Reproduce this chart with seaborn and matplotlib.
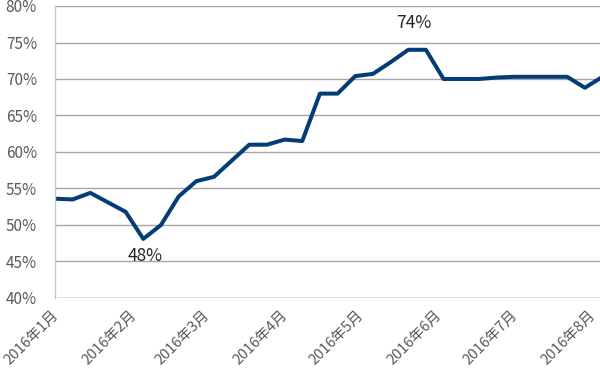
import matplotlib
matplotlib.use("Agg")
import matplotlib.pyplot as plt
import matplotlib.ticker as mticker
import matplotlib.transforms as mtransforms
import seaborn as sns
import pandas as pd

# weekly readings, starting 2016-01-01
start_date = "2016-01-01"
rate = [53.6, 53.5, 54.4, 53.1, 51.8, 48.1, 50.0, 53.9, 56.0, 56.6,
        58.8, 61.0, 61.0, 61.7, 61.5, 68.0, 68.0, 70.4, 70.7, 72.3,
        74.0, 74.0, 70.0, 70.0, 70.0, 70.2, 70.3, 70.3, 70.3, 70.3,
        68.8, 70.3]
month_ticks = pd.date_range("2016-01-01", "2016-08-01", freq="MS")
month_labels = [f"{d.year}年{d.month}月" for d in month_ticks]
y_ticks = [40, 45, 50, 55, 60, 65, 70, 75, 80]

df = pd.DataFrame({
    "date": pd.date_range(start_date, periods=len(rate), freq="7D"),
    "rate": rate,
})

sns.set_theme(style="white")
plt.rcParams["font.family"] = ["Noto Sans CJK JP", "DejaVu Sans"]

fig = plt.figure(figsize=(6, 3.74), dpi=100)
ax = fig.add_axes([55 / 600, 1 - 298 / 374, 1 - 55 / 600, 292 / 374])

sns.lineplot(data=df, x="date", y="rate", color="#043c78", linewidth=2.9,
             ax=ax)

ax.set_ylim(40, 80)
ax.set_xlim(pd.Timestamp("2016-01-01"), pd.Timestamp("2016-08-04"))
ax.set_yticks(y_ticks)
ax.yaxis.set_major_formatter(mticker.FuncFormatter(lambda v, p: f"{v:.0f}%"))
ax.set_xticks(month_ticks)
ax.set_xticklabels(month_labels, rotation=45, ha="right",
                   rotation_mode="anchor")
ax.tick_params(axis="x", colors="#595959", labelsize=10.5, pad=7, length=0)
ax.tick_params(axis="y", colors="#595959", labelsize=11, pad=13, length=0)
ax.set_xlabel("")
ax.set_ylabel("")

# nudge the slanted month labels a little to the left so the last one fits
shift = mtransforms.ScaledTranslation(-4 / 100, 0, fig.dpi_scale_trans)
for lab in ax.get_xticklabels():
    lab.set_transform(lab.get_transform() + shift)

for v in y_ticks[1:]:
    ax.axhline(v, color="#a6a6a6", linewidth=1, zorder=0)
ax.axhline(40, color="#d9d9d9", linewidth=1.2, zorder=0)

for side in ["top", "right", "bottom"]:
    ax.spines[side].set_visible(False)
ax.spines["left"].set_color("#c8c8c8")
ax.spines["left"].set_linewidth(1)

# labels for the low and the high point
low = df.loc[df["rate"].idxmin()]
high = df.loc[df["rate"].idxmax()]
ax.annotate(f"{low['rate']:.0f}%", (low["date"], low["rate"]),
            xytext=(1, -12), textcoords="offset points", ha="center",
            va="center", fontsize=12.5, color="#262626")
ax.annotate(f"{high['rate']:.0f}%", (high["date"], high["rate"]),
            xytext=(4, 19), textcoords="offset points", ha="center",
            va="center", fontsize=12.5, color="#262626")

fig.savefig("out.png", dpi=100)
